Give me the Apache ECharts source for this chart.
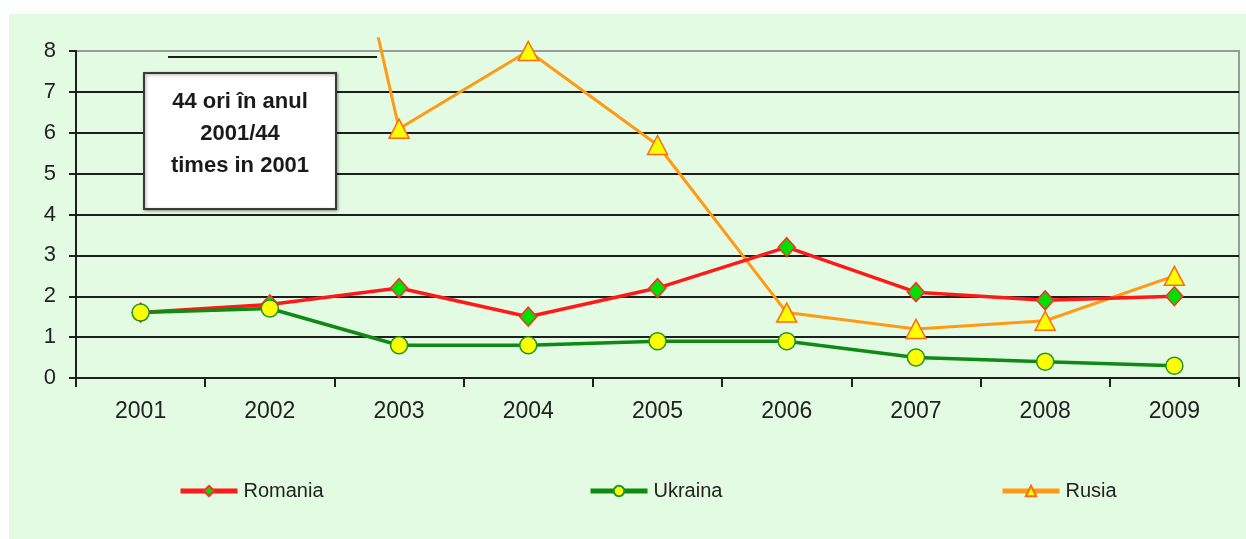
<!DOCTYPE html>
<html>
<head>
<meta charset="utf-8">
<script src="https://cdn.jsdelivr.net/npm/echarts@6/dist/echarts.min.js"></script>
<style>
html,body{margin:0;padding:0;background:#fff;}
#bg{position:absolute;left:9px;top:14px;width:1237px;height:525px;background:#e3fbe3;}
#chart{position:absolute;left:0;top:0;width:1246px;height:539px;}
</style>
</head>
<body>
<div id="bg"></div>
<div id="chart"></div>
<script>
const years = ['2001','2002','2003','2004','2005','2006','2007','2008','2009'];
const romania = [1.6, 1.8, 2.2, 1.5, 2.2, 3.2, 2.1, 1.9, 2.0];
const ukraina = [1.6, 1.7, 0.8, 0.8, 0.9, 0.9, 0.5, 0.4, 0.3];
const rusia = [44, 20, 6.1, 8.0, 5.7, 1.6, 1.2, 1.4, 2.5];
const yTicks = [0,1,2,3,4,5,6,7,8];
const noteLines = ['44 ori în anul', '2001/44', 'times in 2001'];

const chart = echarts.init(document.getElementById('chart'), null, {renderer:'canvas'});
const font = 'Liberation Sans, Arial, sans-serif';
const gridColors = yTicks.map((t,i)=> i === yTicks.length-1 ? '#9a9a9a' : '#1e1e1e');

function legendAt(name, left) {
  return {data:[name], left:left, top:481, padding:0, itemWidth:57, itemHeight:13, itemGap:0,
    lineStyle:{width:5},
    textStyle:{color:'#222', fontSize:20, fontFamily:font, padding:[0,0,0,1]}};
}

const option = {
  animation: false,
  grid: [
    {left:76, right:7, top:51, bottom:161, show:true, borderColor:'#9a9a9a', borderWidth:2, backgroundColor:'transparent'},
    {left:76, right:7, top:38.74, bottom:161, show:false}
  ],
  xAxis: [
    {type:'category', data:years, gridIndex:0, boundaryGap:true,
     axisLine:{lineStyle:{color:'#1e1e1e', width:2}},
     axisTick:{show:true, length:9, lineStyle:{color:'#1e1e1e', width:2}},
     axisLabel:{color:'#222', fontSize:23, fontFamily:font, margin:22},
     splitLine:{show:false}},
    {type:'category', data:years, gridIndex:1, boundaryGap:true, show:false}
  ],
  yAxis: [
    {type:'value', gridIndex:0, min:0, max:8, interval:1,
     axisLine:{show:true, lineStyle:{color:'#1e1e1e', width:2}},
     axisTick:{show:true, length:7, lineStyle:{color:'#1e1e1e', width:2}},
     axisLabel:{color:'#222', fontSize:22, fontFamily:font, margin:20},
     splitLine:{show:true, lineStyle:{color:gridColors, width:2}}},
    {type:'value', gridIndex:1, min:0, max:8.3, show:false, splitLine:{show:false}}
  ],
  legend: [
    legendAt('Romania', 178),
    legendAt('Ukraina', 588),
    legendAt('Rusia', 1000)
  ],
  series: [
    {name:'Romania', type:'line', xAxisIndex:0, yAxisIndex:0, data:romania,
     symbol:'diamond', symbolSize:[17,19], z:3,
     lineStyle:{color:'#ff1a1a', width:3.5},
     itemStyle:{color:'#00e000', borderColor:'#ff2a2a', borderWidth:1.5}},
    {name:'Ukraina', type:'line', xAxisIndex:0, yAxisIndex:0, data:ukraina,
     symbol:'circle', symbolSize:17, z:4,
     lineStyle:{color:'#0f8a14', width:3.5},
     itemStyle:{color:'#ffff00', borderColor:'#1e961e', borderWidth:1.5}},
    {name:'Rusia', type:'line', xAxisIndex:1, yAxisIndex:1, data:rusia,
     symbol:'triangle', symbolSize:[20,19], z:2, clip:true,
     lineStyle:{color:'#ff9a14', width:3},
     itemStyle:{color:'#ffff00', borderColor:'#ff6a14', borderWidth:1.5}}
  ],
  graphic: [
    {type:'line', shape:{x1:168, y1:57, x2:377, y2:57}, style:{stroke:'#1e1e1e', lineWidth:2}, z:10},
    {type:'rect', shape:{x:144, y:73, width:192, height:136},
     style:{fill:'#ffffff', stroke:'#3a3a3a', lineWidth:2, shadowBlur:3, shadowColor:'rgba(0,0,0,0.35)', shadowOffsetX:1, shadowOffsetY:1}, z:10},
    ...noteLines.map((t,i)=>({type:'text', x:240, y:102 + i*32, z:11,
      style:{text:t, fill:'#1a1a1a', font:'bold 22px ' + font, align:'center', verticalAlign:'middle'}}))
  ]
};
chart.setOption(option);
</script>
</body>
</html>
